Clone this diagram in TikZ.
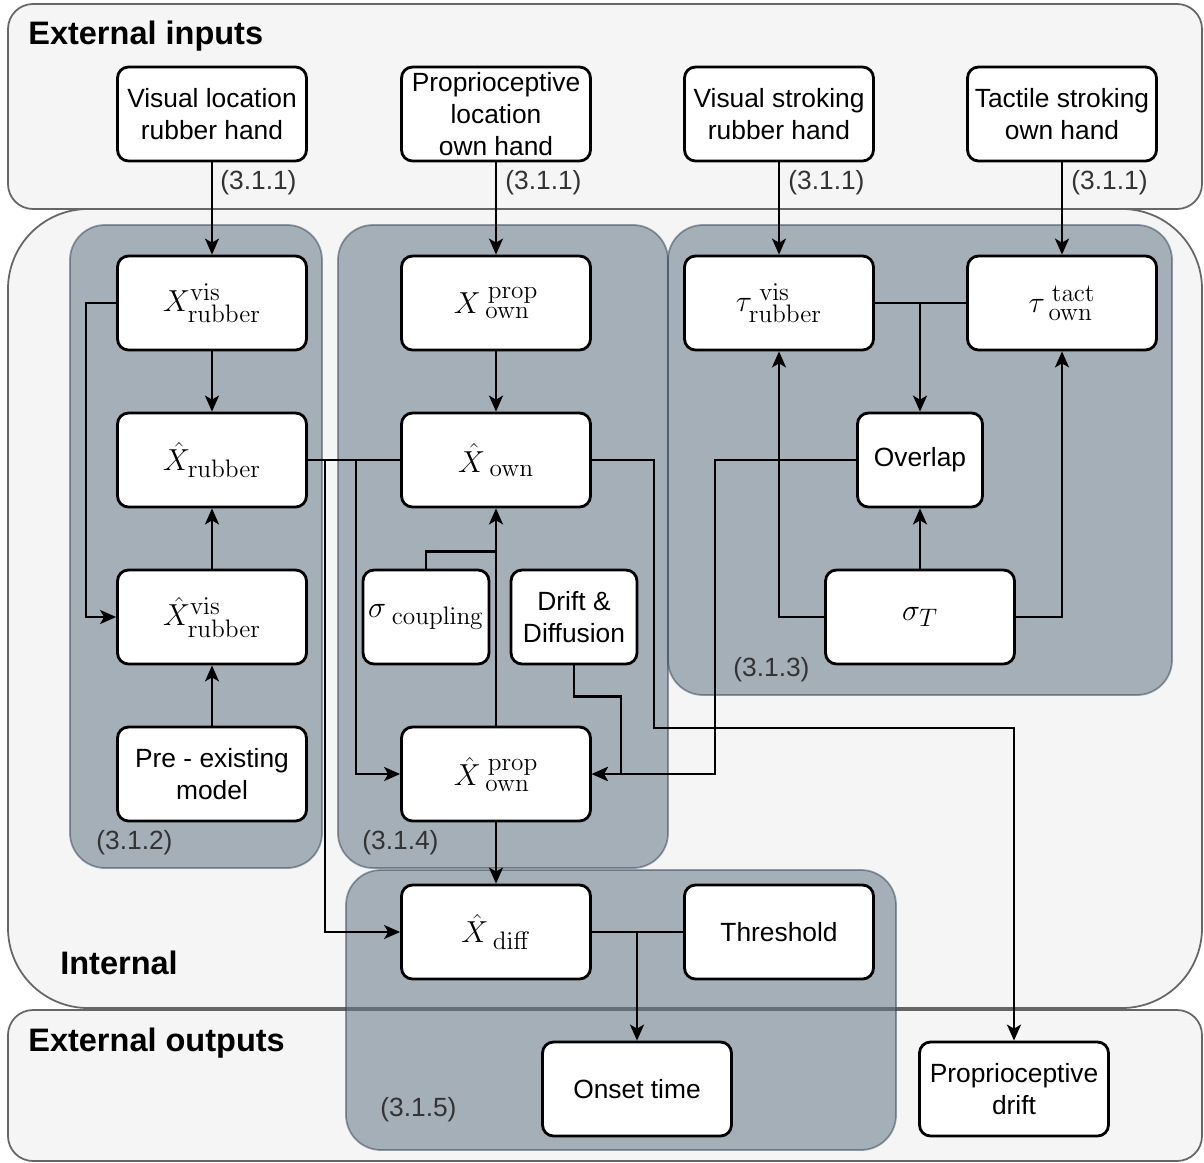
\documentclass[tikz,border=0pt]{standalone}
\usepackage{amsmath}
\usepackage[no-math]{fontspec}
\setmainfont{Liberation Sans}
\usetikzlibrary{arrows.meta}
\DeclareMathSizes{18}{18}{13.5}{10}
\definecolor{panelfill}{HTML}{F5F5F5}
\definecolor{panelline}{HTML}{666666}
\definecolor{grpfill}{HTML}{647687}
\definecolor{grpline}{HTML}{314354}
\definecolor{tagtext}{HTML}{333333}

\begin{document}
\begin{tikzpicture}[x=0.02cm,y=-0.02cm,
  box/.style={draw,line width=1.6pt,rounded corners=0.22cm,fill=white,minimum width=3.78cm,minimum height=1.88cm,align=center,inner sep=1pt,font=\fontsize{15}{18}\selectfont},
  mbox/.style={box,font=\fontsize{18}{22}\selectfont},
  panel/.style={draw=panelline,fill=panelfill,line width=1pt},
  grp/.style={draw=grpline,fill=grpfill,line width=1pt,fill opacity=0.55,draw opacity=0.5,rounded corners=0.7cm},
  arr/.style={-{Stealth[length=0.32cm,width=0.28cm,inset=0.08cm]},line width=1.3pt},
  ln/.style={line width=1.3pt},
  tag/.style={text=tagtext,font=\fontsize{15}{18}\selectfont,inner sep=0pt,anchor=west},
  title/.style={font=\fontsize{18.5}{22}\selectfont\bfseries,inner sep=0pt,anchor=west}]
\useasboundingbox (0,0) rectangle (1204,1163);
\draw[panel,rounded corners=1.6cm] (8,209) rectangle (1202,1008);
\draw[panel,rounded corners=0.5cm] (8,4) rectangle (1202,209);
\draw[panel,rounded corners=0.5cm] (8,1010) rectangle (1202,1161);
\draw[grp] (70,225) rectangle (322,868);
\draw[grp] (338,225) rectangle (668,868);
\draw[grp] (668,225) rectangle (1172,695);
\draw[grp] (346,870) rectangle (896,1150);
\node[title] (tin) at (28,36) {External inputs};
\node[title] (tint) at (60,963) {Internal};
\node[title] (tout) at (28,1043) {External outputs};
% inputs
\node[box] (vloc) at (212,114) {Visual location\\rubber hand};
\node[box] (ploc) at (496,114) {Proprioceptive\\location\\own hand};
\node[box] (vstr) at (779,114) {Visual stroking\\rubber hand};
\node[box] (tstr) at (1062,114) {Tactile stroking\\own hand};
% internal
\node[mbox] (xvis) at (212,303) {$X^{\mathrm{vis}}_{\mathrm{rubber}}$};
\node[mbox] (xprop) at (496,303) {$X^{\;\mathrm{prop}}_{\;\mathrm{own}}$};
\node[mbox] (tvis) at (779,303) {$\tau^{\;\mathrm{vis}}_{\mathrm{rubber}}$};
\node[mbox] (ttact) at (1062,303) {$\tau^{\;\mathrm{tact}}_{\;\mathrm{own}}$};
\node[mbox] (hrub) at (212,460) {$\hat{X}_{\mathrm{rubber}}$};
\node[mbox] (hown) at (496,460) {$\hat{X}_{\;\mathrm{own}}$};
\node[box,minimum width=2.5cm] (ovl) at (920,460) {Overlap};
\node[mbox] (hvis) at (212,617) {$\hat{X}^{\mathrm{vis}}_{\mathrm{rubber}}$};
\node[mbox,minimum width=2.52cm] (scpl) at (426,617) {$\sigma_{\;\mathrm{coupling}}$};
\node[box,minimum width=2.52cm] (drift) at (574,617) {Drift \&\\Diffusion};
\node[mbox] (sigT) at (920,617) {$\sigma_T$};
\node[box] (pre) at (212,774) {Pre - existing\\model};
\node[mbox] (hprop) at (496,774) {$\hat{X}^{\;\mathrm{prop}}_{\;\mathrm{own}}$};
\node[mbox] (hdiff) at (496,932) {$\hat{X}_{\;\mathrm{diff}}$};
\node[box] (thr) at (779,932) {Threshold};
% outputs
\node[box] (onset) at (637,1089) {Onset time};
\node[box] (pdrift) at (1014,1089) {Proprioceptive\\drift};
% tags
\node[tag] (t1) at (220,183) {(3.1.1)};
\node[tag] (t2) at (505,183) {(3.1.1)};
\node[tag] (t3) at (788,183) {(3.1.1)};
\node[tag] (t4) at (1071,183) {(3.1.1)};
\node[tag] (g2) at (96,843) {(3.1.2)};
\node[tag] (g4) at (362,843) {(3.1.4)};
\node[tag] (g3) at (733,670) {(3.1.3)};
\node[tag] (g5) at (380,1110) {(3.1.5)};
% connectors
\draw[arr] (vloc) -- (xvis);
\draw[arr] (ploc) -- (xprop);
\draw[arr] (vstr) -- (tvis);
\draw[arr] (tstr) -- (ttact);
\draw[arr] (xvis) -- (hrub);
\draw[arr] (xvis.west) -- ++(-30,0) |- (hvis.west);
\draw[arr] (hvis) -- (hrub);
\draw[arr] (pre) -- (hvis);
\draw[arr] (xprop) -- (hown);
\draw[ln] (hrub.east) -- (hown.west);
\draw[arr] (hrub.east) -- ++(17,0) |- (hdiff.west);
\draw[arr] (hrub.east) -- ++(48,0) |- (hprop.west);
\draw[arr] (hprop) -- (hown);
\draw[ln] (scpl.north) -- ++(0,-17) -| (hprop.north);
\draw[arr] (drift.south) -- ++(0,31) -- ++(47,0) |- (hprop.east);
\draw[arr] (ovl.west) -- ++(-141,0) |- (hprop.east);
\draw[arr] (hown.east) -- ++(62,0) -- ++(0,268) -| (pdrift.north);
\draw[ln] (tvis.east) -- (ttact.west);
\draw[arr] (tvis.east -| ovl.north) -- (ovl.north);
\draw[arr] (sigT.west) -| (tvis.south);
\draw[arr] (sigT.east) -| (ttact.south);
\draw[arr] (sigT) -- (ovl);
\draw[arr] (hprop) -- (hdiff);
\draw[ln] (hdiff.east) -- (thr.west);
\draw[arr] (hdiff.east -| onset.north) -- (onset.north);
\end{tikzpicture}
\end{document}
